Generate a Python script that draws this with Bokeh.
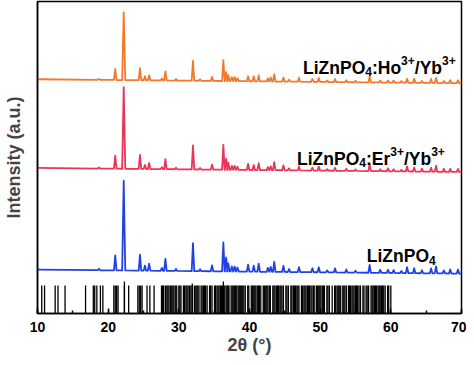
from bokeh.plotting import figure
from bokeh.models import Range1d, SingleIntervalTicker, FixedTicker, Label, ColumnDataSource
from bokeh.embed import file_html
from bokeh.resources import INLINE

# ---------------- data ----------------
peak_pos = [18.7, 21.0, 22.2, 24.5, 25.2, 25.8, 27.6, 28.1, 29.6, 32.0, 33.0, 34.7, 36.3, 36.7, 37.0,
            37.5, 37.9, 38.3, 39.8, 40.6, 41.3, 42.6, 43.0, 43.5, 44.8, 45.6, 47.0, 48.9, 49.8, 51.0,
            52.1, 53.7, 55.0, 57.0, 58.5, 59.6, 60.4, 61.5, 62.3, 63.3, 64.4, 65.7, 66.4, 67.5, 68.4, 69.5]
blue_h = [1.5, 15, 90, 16, 5, 7, 3, 12, 2, 28, 2, 6, 29, 14, 8, 5, 5, 4, 7, 6, 8, 4, 5, 10, 6, 3, 5, 4, 5, 2,
          4, 3, 2, 8, 3, 3, 3, 2, 6, 5, 3, 5, 7, 3, 4, 4]
red_h = [1, 13, 82, 14, 4, 6, 2, 10, 1.5, 24, 1.5, 5, 25, 11, 7, 4, 4, 3, 6, 5, 7, 3, 4, 8, 5, 2, 4, 3, 4, 1.5,
         3, 2, 1.5, 7, 2, 3, 2, 1.5, 5, 4, 3, 4, 6, 3, 3, 3]
orange_h = [1, 11, 68, 12, 4, 5, 2, 9, 1.5, 20, 1.5, 4, 21, 9, 6, 4, 4, 3, 5, 5, 6, 3, 4, 7, 4, 2, 4, 3, 4, 1.5,
            3, 2, 1.5, 6, 2, 2, 2, 1.5, 4, 4, 2, 4, 5, 2, 3, 3]
# baseline level (start at 10 deg, end at 70 deg) for each pattern
blue_base = [44, 40]
red_base = [146, 142]
orange_base = [235, 231]

stick_pos = [10.6, 11.0, 12.5, 12.9, 13.9, 16.8, 17.9, 18.1, 18.4, 18.9, 19.25, 20.8, 21.0, 21.2, 21.4,
             22.3, 22.9, 24.2, 24.4, 24.6, 24.8, 25.5, 25.9, 26.5,
             27.55, 27.7, 27.85, 28.1, 28.3, 28.45, 28.6, 28.8, 29.0, 29.15, 29.3, 29.5, 29.7, 30.0, 30.15,
             30.3, 30.65, 30.8, 31.0, 31.15, 31.3, 31.5, 31.7, 31.9, 32.2, 32.4, 32.55, 32.7, 32.85, 33.15,
             33.3, 33.5, 33.65, 33.8, 34.0, 34.35, 34.5, 34.7, 35.05, 35.2, 35.4, 35.55, 35.7, 35.9, 36.05,
             36.2, 36.35, 36.5, 36.7, 36.85, 37.0, 37.1, 37.4, 37.55, 37.7, 37.9, 38.05, 38.2, 38.4, 38.55,
             38.7, 38.9, 39.05, 39.2, 39.4, 39.75, 39.9, 40.25, 40.4, 40.6, 40.75, 40.9, 41.1, 41.25, 41.4,
             41.6, 41.95, 42.1, 42.3, 42.45, 42.6, 42.8, 42.95, 43.3, 43.45, 43.6, 43.8, 43.95, 44.1, 44.3,
             44.45, 44.6, 44.8, 45.15, 45.3, 45.5, 45.85, 46.0, 46.2, 46.35, 46.5, 46.7, 46.85, 47.0, 47.35,
             47.5, 47.7, 47.85, 48.0, 48.2, 48.35, 48.5, 48.7, 48.85, 49.05, 49.15, 49.45, 49.6, 49.8, 49.95,
             50.1, 50.3, 50.45, 50.6, 50.95, 51.1, 51.3, 51.7, 52.05, 52.2, 52.4, 52.55, 52.7, 52.9, 53.2,
             53.35, 53.5, 53.7, 54.0, 54.15, 54.3, 54.5, 54.65, 54.8, 55.0, 55.15, 55.3, 55.5, 55.7, 56.05,
             56.2, 56.5, 56.65, 56.85, 57.2, 57.35, 57.5, 57.7, 57.85, 58.0, 58.2, 58.35, 58.5, 58.7, 58.85,
             59.0, 59.2, 59.55, 59.7, 60.0]
stick_h = 28
tall_pos = [22.3, 31.9, 36.3]
tall_h = [32, 30, 32]

x_ticks_interval = 10

# ---------------- figure ----------------
p = figure(width=466, height=357, output_backend="svg", toolbar_location=None,
           x_range=Range1d(10, 70), y_range=Range1d(0, 313),
           min_border_left=36, min_border_right=5, min_border_top=1, min_border_bottom=40)
p.grid.visible = False
p.outline_line_color = "black"
p.outline_line_width = 1.5
p.background_fill_color = "white"
p.border_fill_color = "white"


def build_curve(heights, base, w=0.18):
    def b(x):
        return base[0] + (base[1] - base[0]) * (x - 10) / 60.0
    xs, ys = [10.0], [b(10.0)]
    for pos, h in zip(peak_pos, heights):
        ww = 0.22 if h > 50 else w
        xs += [pos - ww, pos, pos + ww]
        ys += [b(pos - ww), b(pos) + h, b(pos + ww)]
    xs.append(70.0)
    ys.append(b(70.0))
    return xs, ys


for heights, base, color in [(blue_h, blue_base, "#2041E6"),
                             (red_h, red_base, "#EC3358"),
                             (orange_h, orange_base, "#F2782A")]:
    xs, ys = build_curve(heights, base)
    p.line(xs, ys, line_color=color, line_width=1.8, line_join="round")

# reference sticks
src = ColumnDataSource(dict(x=stick_pos, y0=[0] * len(stick_pos), y1=[stick_h] * len(stick_pos)))
p.segment(x0="x", y0="y0", x1="x", y1="y1", source=src, line_color="black", line_width=1.3)
p.segment(x0=tall_pos, y0=[0] * len(tall_pos), x1=tall_pos, y1=tall_h, line_color="black", line_width=1.3)

# ---------------- axes ----------------
FONT = "Liberation Sans"
xa = p.xaxis[0]
xa.ticker = SingleIntervalTicker(interval=x_ticks_interval, num_minor_ticks=2)
xa.major_tick_in = 5
xa.major_tick_out = 0
xa.minor_tick_in = 3
xa.minor_tick_out = 0
xa.major_tick_line_width = 1.5
xa.minor_tick_line_width = 1.5
xa.axis_line_width = 1.5
xa.major_label_text_font = FONT
xa.major_label_text_font_style = "bold"
xa.major_label_text_font_size = "14px"
xa.major_label_text_color = "black"
xa.major_label_standoff = 8
xa.axis_label = "2θ (°)"
xa.axis_label_text_font = FONT
xa.axis_label_text_font_style = "bold"
xa.axis_label_text_font_size = "18px"
xa.axis_label_standoff = 0

ya = p.yaxis[0]
ya.ticker = FixedTicker(ticks=[])
ya.axis_line_width = 1.5
ya.major_tick_line_color = None
ya.minor_tick_line_color = None
ya.major_label_standoff = 0
ya.axis_label = "Intensity (a.u.)"
ya.axis_label_text_font = FONT
ya.axis_label_text_font_style = "bold"
ya.axis_label_text_font_size = "18px"
ya.axis_label_standoff = 14

# ---------------- rich text labels ----------------
W = {"L": 611, "i": 278, "Z": 611, "n": 611, "P": 667, "O": 778, ":": 333, "H": 722, "o": 611,
     "/": 278, "Y": 667, "b": 611, "E": 667, "r": 389, "3": 556, "4": 556, "+": 584}
MAIN, SMALL = 17.5, 12


def rich(x, y, parts):
    off = 0.0
    for txt, kind in parts:
        size = MAIN if kind == "n" else SMALL
        dy = 0 if kind == "n" else (-4 if kind == "sub" else 7)
        p.add_layout(Label(x=x, y=y, x_offset=off, y_offset=dy, text=txt,
                           text_font=FONT, text_font_style="bold",
                           text_font_size=f"{size}px", text_color="black",
                           text_baseline="alphabetic", text_align="left"))
        off += sum(W[c] for c in txt) * size / 1000.0


rich(47.58, 246.5, [("LiZnPO", "n"), ("4", "sub"), (":Ho", "n"), ("3+", "sup"), ("/Yb", "n"), ("3+", "sup")])
rich(46.73, 155, [("LiZnPO", "n"), ("4", "sub"), (":Er", "n"), ("3+", "sup"), ("/Yb", "n"), ("3+", "sup")])
rich(56.6, 57.5, [("LiZnPO", "n"), ("4", "sub")])

open("out.html", "w").write(file_html(p, INLINE))
